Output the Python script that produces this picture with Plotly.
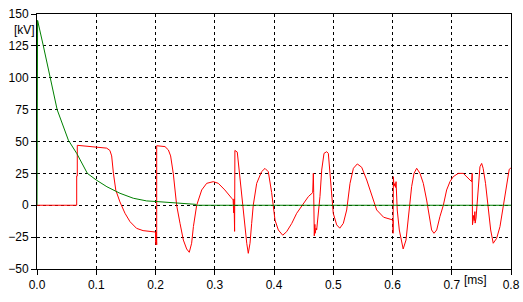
import plotly.graph_objects as go

# Red trace (voltage, kV) vs time (ms)
red_t = [0, 0.067, 0.067, 0.068, 0.068, 0.078, 0.1, 0.1176, 0.123, 0.126, 0.129, 0.133, 0.140, 0.1485,
         0.157, 0.168, 0.179, 0.199, 0.2, 0.2, 0.201, 0.201, 0.202, 0.202, 0.216, 0.2217, 0.2255, 0.230,
         0.2346, 0.2357, 0.2414, 0.247, 0.2526, 0.257, 0.261, 0.264, 0.2695, 0.278, 0.2864, 0.2976, 0.306,
         0.317, 0.3286, 0.331, 0.332, 0.3325, 0.3335, 0.334, 0.338, 0.3415, 0.3455, 0.3494, 0.354, 0.3566,
         0.3595, 0.3623, 0.365, 0.3708, 0.379, 0.3848, 0.3904, 0.396, 0.400, 0.4017, 0.4073, 0.4147, 0.4214,
         0.43, 0.4383, 0.4495, 0.458, 0.4653, 0.4664, 0.467, 0.468, 0.469, 0.4695, 0.471, 0.472, 0.4748,
         0.4776, 0.4805, 0.4844, 0.489, 0.4917, 0.4945, 0.4974, 0.5, 0.5058, 0.511, 0.517, 0.5227, 0.5283,
         0.534, 0.5406, 0.548, 0.5565, 0.565, 0.5733, 0.585, 0.5987, 0.601, 0.601, 0.6015, 0.6025, 0.604,
         0.605, 0.606, 0.608, 0.6115, 0.6155, 0.618, 0.6228, 0.6267, 0.6295, 0.6323, 0.6363, 0.6408, 0.6464,
         0.652, 0.6576, 0.662, 0.666, 0.67, 0.6746, 0.68, 0.6858, 0.6914, 0.697, 0.7025, 0.711, 0.7195,
         0.728, 0.7336, 0.7345, 0.735, 0.737, 0.738, 0.739, 0.7395, 0.741, 0.745, 0.7476, 0.7505, 0.753,
         0.757, 0.7617, 0.7657, 0.770, 0.7758, 0.7814, 0.787, 0.7927, 0.797, 0.7994, 0.8]
red_v = [0, 0, 23, 23, 47, 46.5, 45.5, 44.8, 43, 38.7, 25, 11.8, 2.6, -6.3,
         -12.9, -18.1, -19.9, -20.7, -21, -27, -31, -21, -31, 46.7, 46, 43.4, 38.7, 25,
         6.9, 0, -14.2, -27.3, -34.3, -36.9, -29.8, -16.7, 0, 12, 17.2, 18.5, 17.2,
         12, 5.5, 4.2, -6, 5, -20.5, 43, 41.7, 25, 6.9, -11.4, -29.8, -37.7,
         -29.8, -14.2, 0, 17.2, 26.3, 28.9, 26.3, 10, -3.7, -11.6, -19.4, -23.5, -20.7,
         -14.2, -6.3, 1.5, 6.8, 9.9, 25, 10, -24, -15, -22, -18, -19.4, -6.3,
         6.9, 27.6, 40.7, 42, 40.7, 25, 6.9, -6.3, -15.4, -18, -14.2, -3.7, 17.2,
         29, 32.4, 29.8, 19.8, 6.9, -3.7, -9.4, -11.6, -11.6, -22, 22.4, 15, 17,
         14, 18.5, -3.7, -19.4, -29.8, -34.3, -27.3, -11.6, 0, 14.6, 25, 29, 25,
         17.2, 4.1, -9, -19.4, -22, -19.4, -9, 0, 12, 18.5, 22.4, 25, 25,
         21.2, 18.5, 25, -15.3, -8, -12, -5, -14, -10, 12, 30.2, 32.8, 29,
         17.2, -3.7, -19.4, -29.8, -25.9, -16.8, 0, 17.2, 28.2, 29, 29]

# Green trace
green_t = [0, 0, 0.001, 0.0107, 0.022, 0.034, 0.053, 0.067, 0.085, 0.1, 0.118, 0.14, 0.1625, 0.185,
           0.202, 0.236, 0.268, 0.268, 0.8]
green_v = [0, 140, 145, 125, 100, 75, 51, 40.7, 25, 19.8, 14.5, 9.4, 5.5, 3.4,
           2.9, 1.6, 0.7, 0, 0]

x_ticks = [0, 0.1, 0.2, 0.3, 0.4, 0.5, 0.6, 0.7, 0.8]
x_labels = ["0.0", "0.1", "0.2", "0.3", "0.4", "0.5", "0.6", "0.7", "0.8"]
y_ticks = [-50, -25, 0, 25, 50, 75, 100, 125, 150]

fig = go.Figure()
fig.add_trace(go.Scatter(x=red_t, y=red_v, mode="lines",
                         line=dict(color="#ff0000", width=1), hoverinfo="skip"))
fig.add_trace(go.Scatter(x=green_t, y=green_v, mode="lines",
                         line=dict(color="#008000", width=1), hoverinfo="skip"))

font = dict(family="Liberation Sans, Arial, sans-serif", size=12, color="black")

fig.update_layout(
    width=523, height=302,
    margin=dict(l=37, r=12, t=14, b=33),
    paper_bgcolor="white", plot_bgcolor="white",
    showlegend=False, font=font,
    xaxis=dict(range=[0, 0.8], tickvals=x_ticks, ticktext=x_labels, automargin=False,
               showline=True, linecolor="black", linewidth=1, mirror=True,
               ticks="outside", ticklen=5, tickcolor="black",
               showgrid=True, gridcolor="black", gridwidth=1, griddash="3px,3px",
               zeroline=False, tickfont=font),
    yaxis=dict(range=[-50, 150], tickvals=y_ticks, automargin=False,
               showline=True, linecolor="black", linewidth=1, mirror=True,
               ticks="outside", ticklen=5, tickcolor="black",
               showgrid=True, gridcolor="black", gridwidth=1, griddash="3px,3px",
               zeroline=False, tickfont=font),
    annotations=[
        dict(text="[kV]", xref="paper", yref="y", x=-0.026, y=137.5,
             xanchor="center", yanchor="middle", showarrow=False, font=font),
        dict(text="[ms]", xref="x", yref="paper", x=0.7395, y=-0.045,
             xanchor="center", yanchor="middle", showarrow=False, font=font),
    ],
)

fig.write_html("out.html", config={"displayModeBar": False},
               post_script="document.body.style.margin='0';document.body.style.overflow='hidden';")
